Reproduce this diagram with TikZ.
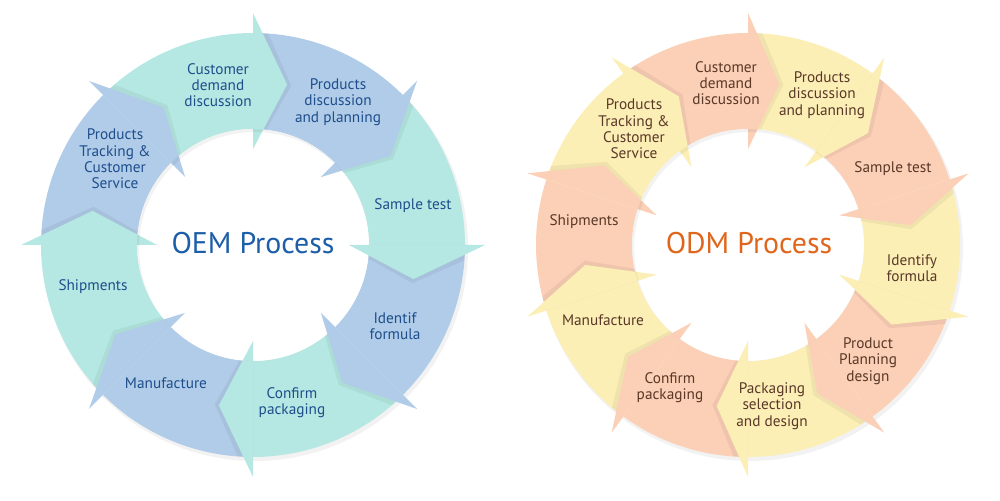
\documentclass[tikz,border=0pt]{standalone}
\usepackage{fontspec}
\setmainfont{PT Sans}
\definecolor{oemteal}{RGB}{181,232,226}
\definecolor{oemblue}{RGB}{176,204,232}
\definecolor{oemink}{RGB}{30,78,140}
\definecolor{oemtitle}{RGB}{28,94,168}
\definecolor{odmorange}{RGB}{251,208,182}
\definecolor{odmyellow}{RGB}{252,239,182}
\definecolor{odmink}{RGB}{90,56,40}
\definecolor{odmtitle}{RGB}{224,102,28}

\begin{document}
\begin{tikzpicture}[x=0.02cm,y=0.02cm]
        \tikzstyle{every node} = [align=center, font=\fontsize{8.7}{9.3}\selectfont]
        \tikzstyle{oemtext} = [text=oemink]
        \tikzstyle{odmtext} = [text=odmink]
        \tikzstyle{title} = [font=\fontsize{17}{20}\selectfont]
        \tikzstyle{headshadow} = [black, opacity=.05]
        \useasboundingbox (0,0) rectangle (1000,500);

        % OEM ring
        \begin{scope}[shift={(253,255)}]
            \fill[black!5] (2,-3) circle (213);
            \foreach \a/\col in {135/oemteal, 90/oemblue, 45/oemteal, 0/oemblue, -45/oemteal, -90/oemblue, -135/oemteal, 180/oemblue}
                \fill[\col] (\a:212) arc[start angle=\a, delta angle=-45, radius=212]
                    -- ({\a-45}:116) arc[start angle={\a-45}, delta angle=45, radius=116] -- cycle;
            \fill[white] (0,0) circle (116);
            \begin{scope}[even odd rule]
                \clip (0,0) circle (212) (0,0) circle (116);
                \foreach \b in {90, 45, 0, -45, -90, -135, 180, 135}
                    \fill[headshadow] ({\b-1.5}:96) -- ({\b-13.5}:164) -- ({\b-1.5}:232) -- cycle;
            \end{scope}
            \foreach \b/\col in {90/oemteal, 45/oemblue, 0/oemteal, -45/oemblue, -90/oemteal, -135/oemblue, 180/oemteal, 135/oemblue}
                \fill[\col] (\b:96) -- ({\b-12}:164) -- (\b:232) -- cycle;
            \begin{scope}
                \clip (0,0) circle (116);
                \fill[black, opacity=.05, even odd rule] (0,0) circle (116) (2,-3) circle (116);
            \end{scope}
            \node[oemtext] (oem-cd) at (-35,160) {Customer\\demand\\discussion};
            \node[oemtext] (oem-pd) at (85,143) {Products\\discussion\\and planning};
            \node[oemtext] (oem-st) at (160,39) {Sample test};
            \node[oemtext] (oem-if) at (142,-81) {Identif\\formula};
            \node[oemtext] (oem-cp) at (39,-158) {Confirm\\packaging};
            \node[oemtext] (oem-mf) at (-87,-138) {Manufacture};
            \node[oemtext] (oem-sh) at (-160,-42) {Shipments};
            \node[oemtext] (oem-pt) at (-138,86) {Products\\Tracking \&\\Customer\\Service};
            \node[title, text=oemtitle] (oem) at (0,2) {OEM Process};
        \end{scope}

        % ODM ring
        \begin{scope}[shift={(748,255)}]
            \fill[black!5] (2,-3) circle (213);
            \foreach \a/\col in {126/odmorange, 90/odmyellow, 54/odmorange, 18/odmyellow, -18/odmorange, -54/odmyellow, -90/odmorange, -126/odmyellow, -162/odmorange, 162/odmyellow}
                \fill[\col] (\a:212) arc[start angle=\a, delta angle=-36, radius=212]
                    -- ({\a-36}:116) arc[start angle={\a-36}, delta angle=36, radius=116] -- cycle;
            \fill[white] (0,0) circle (116);
            \begin{scope}[even odd rule]
                \clip (0,0) circle (212) (0,0) circle (116);
                \foreach \b in {90, 54, 18, -18, -54, -90, -126, -162, 162, 126}
                    \fill[headshadow] ({\b-1.5}:96) -- ({\b-12.5}:164) -- ({\b-1.5}:232) -- cycle;
            \end{scope}
            \foreach \b/\col in {90/odmorange, 54/odmyellow, 18/odmorange, -18/odmyellow, -54/odmorange, -90/odmyellow, -126/odmorange, -162/odmyellow, 162/odmorange, 126/odmyellow}
                \fill[\col] (\b:96) -- ({\b-11}:164) -- (\b:232) -- cycle;
            \begin{scope}
                \clip (0,0) circle (116);
                \fill[black, opacity=.05, even odd rule] (0,0) circle (116) (2,-3) circle (116);
            \end{scope}
            \node[odmtext] (odm-cd) at (-22,162) {Customer\\demand\\discussion};
            \node[odmtext] (odm-pd) at (74,150) {Products\\discussion\\and planning};
            \node[odmtext] (odm-st) at (145,76) {Sample test};
            \node[odmtext] (odm-id) at (164,-23) {Identify\\formula};
            \node[odmtext] (odm-pp) at (120,-116) {Product\\Planning\\design};
            \node[odmtext] (odm-ps) at (24,-161) {Packaging\\selection\\and design};
            \node[odmtext] (odm-cp) at (-78,-143) {Confirm\\packaging};
            \node[odmtext] (odm-mf) at (-145,-75) {Manufacture};
            \node[odmtext] (odm-sh) at (-164,23) {Shipments};
            \node[odmtext] (odm-pt) at (-114,116) {Products\\Tracking \&\\Customer\\Service};
            \node[title, text=odmtitle] (odm) at (1,2) {ODM Process};
        \end{scope}
    \end{tikzpicture}
\end{document}
